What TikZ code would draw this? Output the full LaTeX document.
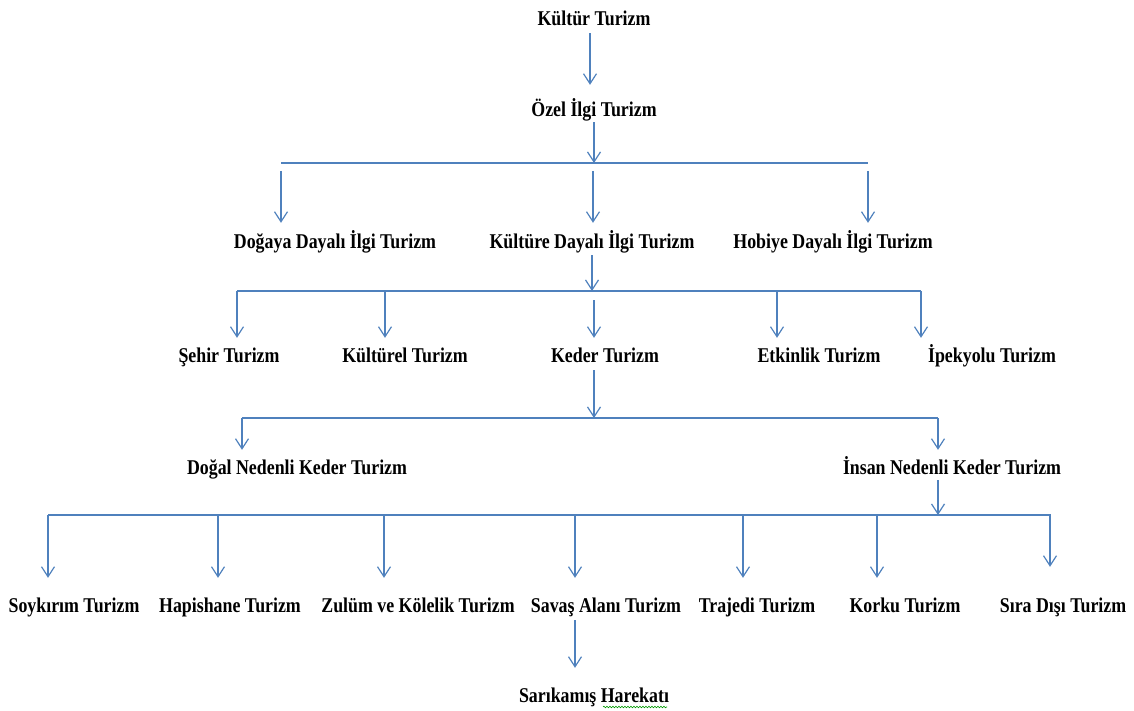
\documentclass[tikz,border=0pt]{standalone}
\usepackage{fontspec}
\setmainfont{Liberation Serif}[FakeStretch=0.85]
\usetikzlibrary{arrows.meta,decorations.pathmorphing}
\definecolor{linkblue}{RGB}{79,129,189}

\begin{document}
\begin{tikzpicture}[x=1pt,y=-1pt,
  lbl/.style={font=\fontsize{21}{25}\selectfont\bfseries, inner sep=0pt,
    text height=14pt, text depth=4pt, anchor=base},
  link/.style={draw=linkblue, line width=1.2pt},
  arr/.style={link, -{Straight Barb[length=10pt,width=13pt]}}]
\useasboundingbox (0,0) rectangle (1134,711);

% --- Kultur -> Ozel ilgi ---
\node[lbl] (kultur) at (594,26) {Kültür Turizm};
\node[lbl] (ozel) at (594,117) {Özel İlgi Turizm};
\draw[arr, shorten <=3pt, shorten >=18pt] ([xshift=-4pt]kultur.south) -- ([xshift=-4pt]ozel.north);

% --- Ilgi turizm ---
\node[lbl] (dogaya) at (335,248) {Doğaya Dayalı İlgi Turizm};
\node[lbl] (kulture) at (592,248) {Kültüre Dayalı İlgi Turizm};
\node[lbl] (hobiye) at (833,248) {Hobiye Dayalı İlgi Turizm};
\coordinate (b1l) at (281,163);
\coordinate (b1r) at (868,163);
\draw[link] (b1l) -- (b1r);
\draw[arr, shorten <=1pt] (ozel.south) -- (ozel.south |- b1l);
\foreach \x/\n in {281/dogaya,593/kulture,868/hobiye} {
  \coordinate (t\n) at (\x,171);
  \draw[arr, shorten >=11pt] (t\n) -- (t\n |- \n.north);
}

% --- Kultur turizm turleri ---
\node[lbl] (sehir) at (229,362) {Şehir Turizm};
\node[lbl] (kulturel) at (405,362) {Kültürel Turizm};
\node[lbl] (keder) at (605,362) {Keder Turizm};
\node[lbl] (etkinlik) at (819,362) {Etkinlik Turizm};
\node[lbl] (ipekyolu) at (992,362) {İpekyolu Turizm};
\coordinate (b2l) at (237,291);
\coordinate (b2r) at (921,291);
\draw[link] (b2l) -- (b2r);
\draw[arr, shorten <=3pt] (kulture.south) -- (kulture.south |- b2l);
\foreach \x/\y/\n in {237/291/sehir,385/291/kulturel,594/300/keder,777/291/etkinlik,921/291/ipekyolu} {
  \coordinate (t\n) at (\x,\y);
  \draw[arr, shorten >=10pt] (t\n) -- (t\n |- \n.north);
}

% --- Keder turizm ---
\node[lbl] (dogal) at (297,474) {Doğal Nedenli Keder Turizm};
\node[lbl] (insan) at (952,474) {İnsan Nedenli Keder Turizm};
\coordinate (b3l) at (242,418);
\coordinate (b3r) at (938,418);
\draw[link] (b3l) -- (b3r);
\draw[arr, shorten <=4pt] (tkeder |- keder.south) -- (tkeder |- b3l);
\draw[arr, shorten >=10pt] (b3l) -- (b3l |- dogal.north);
\draw[arr, shorten >=10pt] (b3r) -- (b3r |- insan.north);

% --- Insan nedenli ---
\node[lbl] (soykirim) at (74,612) {Soykırım Turizm};
\node[lbl] (hapishane) at (230,612) {Hapishane Turizm};
\node[lbl] (zulum) at (418,612) {Zulüm ve Kölelik Turizm};
\node[lbl] (savas) at (606,612) {Savaş Alanı Turizm};
\node[lbl] (trajedi) at (757,612) {Trajedi Turizm};
\node[lbl] (korku) at (905,612) {Korku Turizm};
\node[lbl] (siradisi) at (1063,612) {Sıra Dışı Turizm};
\coordinate (b4l) at (48,515);
\coordinate (b4r) at (1051,515);
\draw[link] (b4l) -- (b4r);
\draw[arr, shorten <=2pt] (b3r |- insan.south) -- (b3r |- b4l);
\foreach \x/\s/\n in {48/20/soykirim,218/20/hapishane,384/20/zulum,575/20/savas,743/20/trajedi,877/20/korku,1050/31/siradisi} {
  \coordinate (t\n) at (\x,515);
  \draw[arr, shorten >=\s pt] (t\n) -- (t\n |- \n.north);
}

% --- Sarikamis ---
\node[lbl] (sarikamis) at (594,702) {Sarıkamış Harekatı};
\draw[arr, shorten <=4pt, shorten >=20pt] (tsavas |- savas.south) -- (tsavas |- sarikamis.north);
\draw[green!60!black, line width=0.6pt, decorate,
  decoration={snake, amplitude=0.8pt, segment length=3pt}] (603,707) -- (667,707);

\end{tikzpicture}
\end{document}
